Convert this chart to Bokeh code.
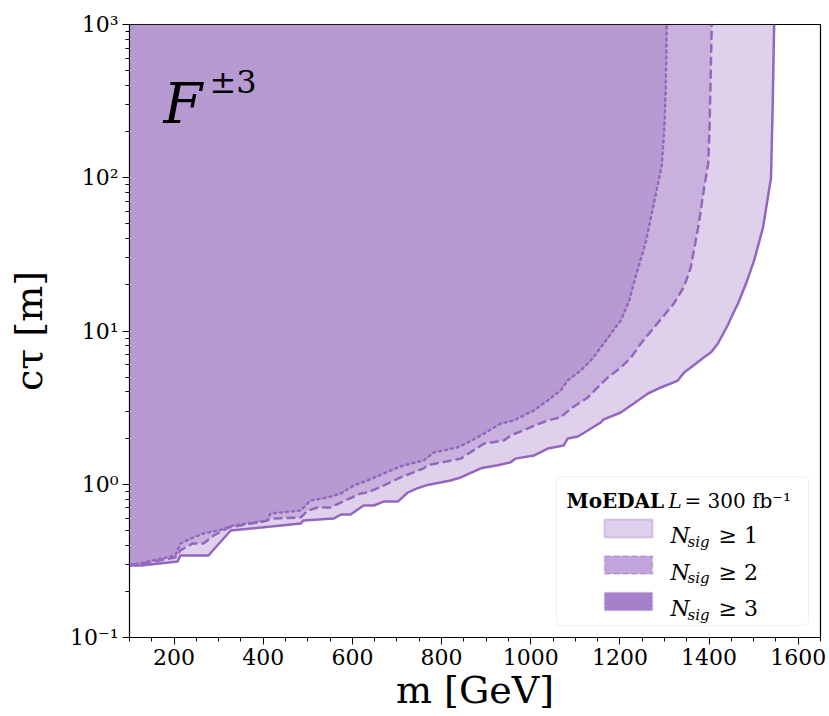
import math
from bokeh.plotting import figure
from bokeh.models import (Range1d, FixedTicker, CustomJSTickFormatter, Label, BoxAnnotation)
from bokeh.embed import file_html
from bokeh.resources import INLINE

# ---------------- data ----------------
m_n1 = [100, 125, 208, 214, 277, 327, 484, 490, 558, 574, 596, 625, 648, 670, 702, 724,
        745, 769, 800, 820, 843, 888, 926, 955, 966, 1007, 1038, 1074, 1083, 1106, 1157,
        1164, 1202, 1231, 1247, 1263, 1292, 1330, 1344, 1359, 1388, 1405, 1420, 1442, 1454,
        1465, 1483, 1501, 1521, 1539, 1543, 1546]
ct_n1 = [0.295, 0.295, 0.313, 0.343, 0.343, 0.499, 0.554, 0.580, 0.597, 0.635, 0.635,
         0.727, 0.727, 0.771, 0.771, 0.883, 0.94, 0.99, 1.03, 1.058, 1.107, 1.27, 1.33,
         1.39, 1.47, 1.54, 1.71, 1.79, 1.99, 2.05, 2.53, 2.65, 2.94, 3.36, 3.63, 3.91,
         4.28, 4.75, 5.36, 5.78, 6.72, 7.3, 8.3, 10.9, 13.0, 15.1, 20.4, 28.8, 47.3, 100,
         319, 1000]

m_n2 = [100, 131, 203, 214, 241, 266, 289, 322, 349, 372, 401, 417, 484, 500, 522, 551,
        574, 619, 634, 670, 693, 708, 760, 769, 843, 895, 940, 955, 993, 1038, 1067,
        1090, 1128, 1150, 1173, 1202, 1225, 1247, 1276, 1308, 1321, 1344, 1359, 1366,
        1377, 1389, 1398, 1401, 1404, 1406]
ct_n2 = [0.298, 0.304, 0.333, 0.370, 0.410, 0.410, 0.463, 0.522, 0.538, 0.554, 0.571,
         0.597, 0.607, 0.674, 0.705, 0.705, 0.760, 0.871, 0.883, 0.981, 1.058, 1.107,
         1.27, 1.33, 1.47, 1.84, 1.93, 2.08, 2.31, 2.61, 2.73, 3.12, 3.68, 4.28, 4.98,
         5.78, 6.72, 8.28, 10.5, 13.6, 15.1, 19.5, 26.0, 33.5, 50.0, 86.0, 123, 204,
         524, 1000]

m_n3 = [100, 131, 203, 214, 244, 266, 298, 333, 410, 416, 484, 506, 544, 574, 603, 634,
        708, 760, 782, 836, 859, 895, 933, 962, 1007, 1038, 1067, 1083, 1112, 1135, 1157,
        1180, 1202, 1220, 1236, 1258, 1278, 1294, 1300, 1303, 1305]
ct_n3 = [0.295, 0.308, 0.343, 0.410, 0.450, 0.478, 0.499, 0.538, 0.580, 0.644, 0.674,
         0.783, 0.820, 0.871, 0.981, 1.058, 1.31, 1.43, 1.61, 1.74, 1.87, 2.14, 2.49,
         2.61, 3.03, 3.52, 4.09, 4.75, 5.52, 6.42, 7.80, 9.63, 11.7, 15.5, 23.0, 38.0,
         72.0, 120, 220, 400, 1000]

x_ticks = [200, 400, 600, 800, 1000, 1200, 1400, 1600]
x_minor = [100, 150, 250, 300, 350, 450, 500, 550, 650, 700, 750, 850, 900, 950, 1050,
           1100, 1150, 1250, 1300, 1350, 1450, 1500, 1550, 1650]
y_ticks = [0.1, 1, 10, 100, 1000]
y_minor = [k * 10.0 ** e for e in range(-1, 3) for k in range(2, 10)]

x_label = "m [GeV]"
y_label = "c\u03c4 [m]"
series_labels = ["\u2265 1", "\u2265 2", "\u2265 3"]
legend_title_bold = "MoEDAL"
legend_title_rest = "= 300 fb\u207b\u00b9"

PURPLE = "#9467bd"
SERIF = "DejaVu Serif"

# ---------------- figure ----------------
p = figure(width=829, height=716, x_range=Range1d(100, 1650), y_range=Range1d(0.1, 1000),
           y_axis_type="log", output_backend="svg", toolbar_location=None,
           min_border_left=129, min_border_right=9, min_border_top=24, min_border_bottom=79,
           background_fill_color="white", border_fill_color="white")
p.grid.visible = False
p.outline_line_color = "black"
p.outline_line_width = 1.2

for ax in (p.xaxis[0], p.yaxis[0]):
    ax.major_label_text_font = SERIF
    ax.major_label_text_font_size = "22px"
    ax.major_label_text_color = "black"
    ax.major_tick_out = 7
    ax.major_tick_in = 0
    ax.minor_tick_out = 4
    ax.minor_tick_in = 0
    ax.axis_line_color = "black"
    ax.major_tick_line_color = "black"
    ax.minor_tick_line_color = "black"
    ax.axis_label_text_font = SERIF
    ax.axis_label_text_font_style = "normal"
    ax.axis_label_text_color = "black"

p.xaxis.major_label_standoff = 4
p.yaxis.major_label_standoff = 4
p.xaxis.axis_label = x_label
p.xaxis.axis_label_text_font_size = "38px"
p.xaxis.axis_label_standoff = 0
p.yaxis.axis_label = y_label
p.yaxis.axis_label_text_font_size = "38px"
p.yaxis.axis_label_standoff = 16

p.xaxis.ticker = FixedTicker(ticks=x_ticks, minor_ticks=x_minor)
p.yaxis.ticker = FixedTicker(ticks=y_ticks, minor_ticks=y_minor)
p.yaxis.formatter = CustomJSTickFormatter(code="""
const sup = {"-":"\u207b","0":"\u2070","1":"\u00b9","2":"\u00b2","3":"\u00b3",
             "4":"\u2074","5":"\u2075","6":"\u2076","7":"\u2077","8":"\u2078","9":"\u2079"};
const e = Math.round(Math.log10(tick));
return "10" + String(e).split("").map(c => sup[c]).join("");
""")

# filled regions (stacked, each alpha 0.3)
for ms, cts in ((m_n1, ct_n1), (m_n2, ct_n2), (m_n3, ct_n3)):
    xs = list(ms) + [ms[0]]
    ys = list(cts) + [cts[-1]]
    p.patch(xs, ys, fill_color=PURPLE, fill_alpha=0.3, line_color=None)

p.line(m_n1, ct_n1, line_color=PURPLE, line_width=2.5)
p.line(m_n2, ct_n2, line_color=PURPLE, line_width=2.5, line_dash="9 4")
p.line(m_n3, ct_n3, line_color=PURPLE, line_width=2.5, line_dash="2 4", line_cap="round")


def lab(x, y, text, size, style="normal", angle=0.0, align="left", color="black"):
    p.add_layout(Label(x=x, y=y, x_units="screen", y_units="screen", text=text,
                       text_font=SERIF, text_font_size=size, text_font_style=style,
                       text_color=color, angle=angle, text_align=align,
                       text_baseline="alphabetic"))

# F^{±3}
lab(34, 534, "F", "56px", "italic")
lab(80, 556, "\u00b13", "32px")

# legend (manual)
p.add_layout(BoxAnnotation(left=427, right=679, bottom=12, top=161,
                           left_units="screen", right_units="screen",
                           bottom_units="screen", top_units="screen",
                           fill_color="white", fill_alpha=0.8,
                           line_color="#cccccc", line_width=1, border_radius=4))
lab(437, 137, legend_title_bold, "20px", "bold")
lab(539, 137, "L", "20px", "italic")
lab(555, 137, legend_title_rest, "20px")

swatch_fill = ["#dfd0eb", "#c1a5da", "#a681cb"]
swatch_dash = ["solid", "6 3", "2 2"]
centers = [109, 72.5, 36]
for i in range(3):
    c = centers[i]
    p.add_layout(BoxAnnotation(left=475, right=523, bottom=c - 9, top=c + 9,
                               left_units="screen", right_units="screen",
                               bottom_units="screen", top_units="screen",
                               fill_color=swatch_fill[i], fill_alpha=1.0,
                               line_color=PURPLE, line_width=2, line_dash=swatch_dash[i]))
    lab(541, c - 7, "N", "22px", "italic")
    lab(558, c - 13, "sig", "15px", "italic")
    lab(589, c - 7, series_labels[i], "22px")

open("out.html", "w").write(file_html(p, INLINE))
